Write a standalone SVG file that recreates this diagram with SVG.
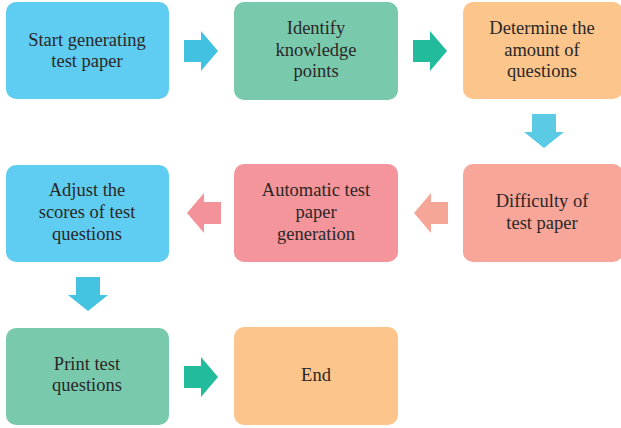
<svg xmlns="http://www.w3.org/2000/svg" xmlns:xlink="http://www.w3.org/1999/xlink" width="621" height="428" viewBox="0 0 621 428">
  <style>
    .blue { fill: #5fcdf1; }
    .green { fill: #79caad; }
    .orange { fill: #fbc58c; }
    .salmon { fill: #f7a699; }
    .pink { fill: #f4959c; }
    .label { font-size: 18.5px; fill: #2a2727; text-anchor: middle; }
  </style>
  <defs>
    <!-- block arrow pointing right, origin at tail centre -->
    <path id="arrowR" d="M0,-11 H17 V-20 L34,0 L17,20 V11 H0 Z"/>
    <!-- block arrow pointing down, origin at tail centre -->
    <path id="arrowD" d="M-12,0 H12 V18 H20 L0,34 L-20,18 H-12 Z"/>
  </defs>

  <rect width="621" height="428" fill="#ffffff"/>

  <g id="connectors">
    <use xlink:href="#arrowR" transform="translate(184,51)" fill="#42c2e0"/>
    <use xlink:href="#arrowR" transform="translate(413,51)" fill="#22bb9b"/>
    <use xlink:href="#arrowD" transform="translate(544,114)" fill="#5bcae5"/>
    <use xlink:href="#arrowR" transform="translate(448,213) rotate(180)" fill="#f6a696"/>
    <use xlink:href="#arrowR" transform="translate(221,213) rotate(180)" fill="#f4929a"/>
    <use xlink:href="#arrowD" transform="translate(88,277)" fill="#43c3df"/>
    <use xlink:href="#arrowR" transform="translate(184,377)" fill="#22bb9b"/>
  </g>

  <g class="label" font-family="Liberation Serif, Times New Roman, serif">
    <g id="start">
      <rect class="blue" x="6" y="2" width="163" height="97" rx="10"/>
      <text x="87" y="46">Start generating</text>
      <text x="87" y="67">test paper</text>
    </g>

    <g id="identify">
      <rect class="green" x="234" y="2" width="164" height="98" rx="10"/>
      <text x="316" y="34">Identify</text>
      <text x="316" y="56">knowledge</text>
      <text x="316" y="77">points</text>
    </g>

    <g id="amount">
      <rect class="orange" x="463" y="2" width="160" height="97" rx="10"/>
      <text x="542" y="34">Determine the</text>
      <text x="542" y="56">amount of</text>
      <text x="542" y="77">questions</text>
    </g>

    <g id="difficulty">
      <rect class="salmon" x="463" y="164" width="160" height="98" rx="10"/>
      <text x="542" y="207">Difficulty of</text>
      <text x="542" y="229">test paper</text>
    </g>

    <g id="automatic">
      <rect class="pink" x="234" y="164" width="164" height="98" rx="10"/>
      <text x="316" y="196">Automatic test</text>
      <text x="316" y="218">paper</text>
      <text x="316" y="240">generation</text>
    </g>

    <g id="adjust">
      <rect class="blue" x="6" y="165" width="163" height="97" rx="10"/>
      <text x="87" y="196">Adjust the</text>
      <text x="87" y="218">scores of test</text>
      <text x="87" y="240">questions</text>
    </g>

    <g id="print">
      <rect class="green" x="6" y="328" width="163" height="97" rx="10"/>
      <text x="87" y="370">Print test</text>
      <text x="87" y="391">questions</text>
    </g>

    <g id="end">
      <rect class="orange" x="234" y="327" width="164" height="98" rx="10"/>
      <text x="316" y="381">End</text>
    </g>
  </g>
</svg>
